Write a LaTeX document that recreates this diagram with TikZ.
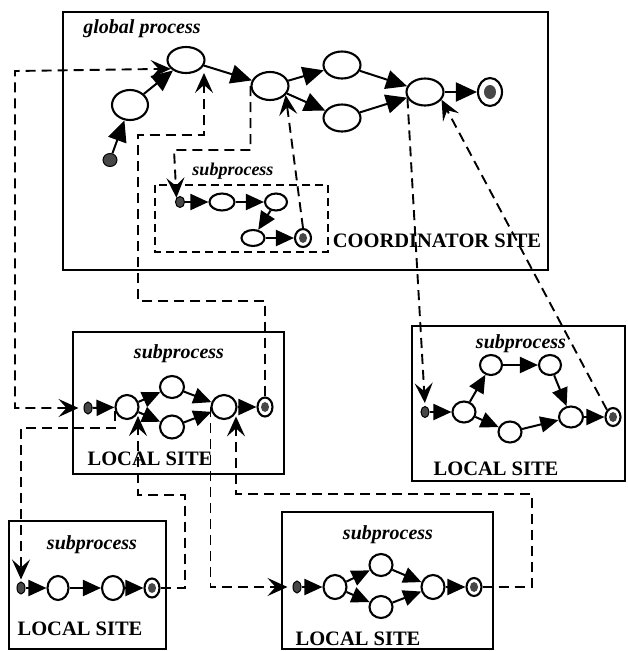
\documentclass[tikz,border=0pt]{standalone}
\usepackage{fontspec}
\setmainfont{Liberation Serif}
\usetikzlibrary{arrows.meta,shapes.geometric}
\begin{document}
\begin{tikzpicture}[x=1pt,y=-1pt,
  site/.style={draw,line width=2.4pt},
  subbox/.style={draw,line width=1.8pt,dash pattern=on 8pt off 5pt},
  st/.style={ellipse,draw,fill=white,line width=2.1pt,inner sep=0pt},
  sz/.style 2 args={minimum width=#1pt,minimum height=#2pt},
  dot/.style={ellipse,draw,fill=black!72,line width=1pt,inner sep=0pt},
  flow/.style={line width=2pt,-{Triangle[length=21pt,width=19pt]}},
  sflow/.style={line width=2pt,-{Triangle[length=18pt,width=16pt]}},
  dconn/.style={line width=1.9pt,dash pattern=on 10pt off 6pt},
  dend/.style={-{Stealth[length=20pt,width=18pt,inset=8pt]}},
  dboth/.style={{Stealth[length=20pt,width=18pt,inset=8pt]}-{Stealth[length=20pt,width=18pt,inset=8pt]}},
  lbl/.style={font=\fontsize{20}{22}\selectfont\bfseries\itshape,anchor=base,inner sep=0pt},
  slbl/.style={font=\fontsize{18}{20}\selectfont\bfseries\itshape,anchor=base,inner sep=0pt},
  sitelbl/.style={font=\fontsize{20.5}{22}\selectfont\bfseries,anchor=base,inner sep=0pt}
]
\useasboundingbox (0,0) rectangle (627,651);

% ---------- boxes ----------
\draw[site] (63,12) rectangle (548,270);
\draw[subbox] (155,185) rectangle (328,252);
\draw[site] (73,332) rectangle (284,474);
\draw[site] (412,326) rectangle (625,481);
\draw[site] (9,521) rectangle (166,649);
\draw[site] (282,512) rectangle (493,649);

% ---------- labels ----------
\node[lbl] (tg) at (142,33) {global process};
\node[slbl] (ts) at (233,175) {subprocess};
\node[sitelbl] (tc) at (437,247) {COORDINATOR SITE};
\node[lbl] (t1) at (179,358) {subprocess};
\node[sitelbl] (l1) at (150,465) {LOCAL SITE};
\node[lbl] (t2) at (521,348) {subprocess};
\node[sitelbl] (l2) at (496,475) {LOCAL SITE};
\node[lbl] (t3) at (92,549) {subprocess};
\node[sitelbl] (l3) at (80,635) {LOCAL SITE};
\node[lbl] (t4) at (388,539) {subprocess};
\node[sitelbl] (l4) at (358,645) {LOCAL SITE};

% ---------- global process ----------
\node[dot,sz={14}{13}] (gs) at (110,160) {};
\node[st,sz={36}{30}] (gA) at (130,105) {};
\node[st,sz={37}{26}] (gB) at (186,60) {};
\node[st,sz={37}{28}] (gC) at (270,86) {};
\node[st,sz={37}{27}] (gD) at (342,65) {};
\node[st,sz={37}{27}] (gE) at (342,118) {};
\node[st,sz={37}{27}] (gF) at (425,92) {};
\node[st,sz={24}{28}] (gEnd) at (490,92) {};
\fill[black!72] (gEnd.center) ellipse (6pt and 7pt);
\draw[flow] (gs) -- (gA);
\draw[flow] (gA) -- (gB);
\draw[flow] (gB) -- (gC);
\draw[flow] (gC) -- (gD);
\draw[flow] (gC) -- (gE);
\draw[flow] (gD) -- (gF);
\draw[flow] (gE) -- (gF);
\draw[flow] (gF) -- (gEnd);

% ---------- coordinator subprocess ----------
\node[dot,sz={9}{11}] (ss) at (180,202) {};
\node[st,sz={25}{17}] (s1) at (222,202) {};
\node[st,sz={22}{17}] (s2) at (276,202) {};
\node[st,sz={23}{16}] (s3) at (253,238) {};
\node[st,sz={16}{18}] (sEnd) at (303,238) {};
\fill[black!72] (sEnd.center) ellipse (4pt and 5pt);
\draw[sflow] (ss) -- (s1);
\draw[sflow] (s1) -- (s2);
\draw[sflow] (s2) -- (s3);
\draw[sflow] (s3) -- (sEnd);

% ---------- local site 1 ----------
\node[dot,sz={8}{12}] (a0) at (88,408) {};
\node[st,sz={23}{24}] (a1) at (127,407) {};
\node[st,sz={24}{22}] (a2) at (172,387) {};
\node[st,sz={24}{23}] (a3) at (172,427) {};
\node[st,sz={25}{24}] (a4) at (224,407) {};
\node[st,sz={15}{19}] (aEnd) at (265,407) {};
\fill[black!72] (aEnd.center) ellipse (4pt and 5pt);
\draw[sflow] (a0) -- (a1);
\draw[sflow] (a1) -- (a2);
\draw[sflow] (a1) -- (a3);
\draw[sflow] (a2) -- (a4);
\draw[sflow] (a3) -- (a4);
\draw[sflow] (a4) -- (aEnd);

% ---------- local site 2 (right) ----------
\node[dot,sz={8}{11}] (b0) at (425,412) {};
\node[st,sz={23}{21}] (b1) at (464,412) {};
\node[st,sz={22}{20}] (b2) at (491,365) {};
\node[st,sz={22}{20}] (b3) at (550,365) {};
\node[st,sz={23}{21}] (b4) at (510,432) {};
\node[st,sz={24}{21}] (b5) at (571,417) {};
\node[st,sz={15}{18}] (bEnd) at (613,417) {};
\fill[black!72] (bEnd.center) ellipse (4pt and 5pt);
\draw[sflow] (b0) -- (b1);
\draw[sflow] (b1) -- (b2);
\draw[sflow] (b1) -- (b4);
\draw[sflow] (b2) -- (b3);
\draw[sflow] (b3) -- (b5);
\draw[sflow] (b4) -- (b5);
\draw[sflow] (b5) -- (bEnd);

% ---------- local site 3 (bottom left) ----------
\node[dot,sz={8}{12}] (c0) at (21,588) {};
\node[st,sz={21}{24}] (c1) at (58,588) {};
\node[st,sz={22}{24}] (c2) at (113,588) {};
\node[st,sz={15}{19}] (cEnd) at (152,588) {};
\fill[black!72] (cEnd.center) ellipse (4pt and 5pt);
\draw[sflow] (c0) -- (c1);
\draw[sflow] (c1) -- (c2);
\draw[sflow] (c2) -- (cEnd);

% ---------- local site 4 (bottom middle) ----------
\node[dot,sz={8}{12}] (d0) at (297,587) {};
\node[st,sz={23}{24}] (d1) at (335,587) {};
\node[st,sz={23}{22}] (d2) at (381,565) {};
\node[st,sz={23}{22}] (d3) at (381,607) {};
\node[st,sz={23}{24}] (d4) at (433,587) {};
\node[st,sz={15}{18}] (dEnd) at (474,587) {};
\fill[black!72] (dEnd.center) ellipse (4pt and 5pt);
\draw[sflow] (d0) -- (d1);
\draw[sflow] (d1) -- (d2);
\draw[sflow] (d1) -- (d3);
\draw[sflow] (d2) -- (d4);
\draw[sflow] (d3) -- (d4);
\draw[sflow] (d4) -- (dEnd);

% ---------- dashed connectors ----------
\coordinate (k1) at (204,135);
\coordinate (k2) at (138,495);
\coordinate (k3) at (236,494);

\draw[dconn,dboth,shorten <=5pt] (a0.west) -- (15,408) -- (15,71) -- (gB.210);
\draw[dconn,dend] (aEnd.north) |- (138,301) -- (138,135) -- (k1) -- (k1 |- gB.-60);
\draw[dconn,dend] (gC.west) |- (174,150) -- (ss.north west);
\draw[dconn,dend] (sEnd.north) -- (gC.-30);
\draw[dconn,dend,shorten >=3pt] (gF.200) -- (b0.north);
\draw[dconn,dend] (bEnd.north west) -- (gF.-25);
\draw[dconn,dend,shorten >=2pt] (a1.200) |- (21,428) -- (c0.north);
\draw[dconn,dend] (cEnd.east) -- (185,588) -- (185,495) -- (k2) -- (k2 |- a1.-45);
\draw[dconn,dend,shorten >=5pt] (a4.west) |- (d0.west);
\draw[dconn,dend] (dEnd.east) -- (532,587) -- (532,494) -- (k3) -- (k3 |- a4.-45);
\end{tikzpicture}
\end{document}
